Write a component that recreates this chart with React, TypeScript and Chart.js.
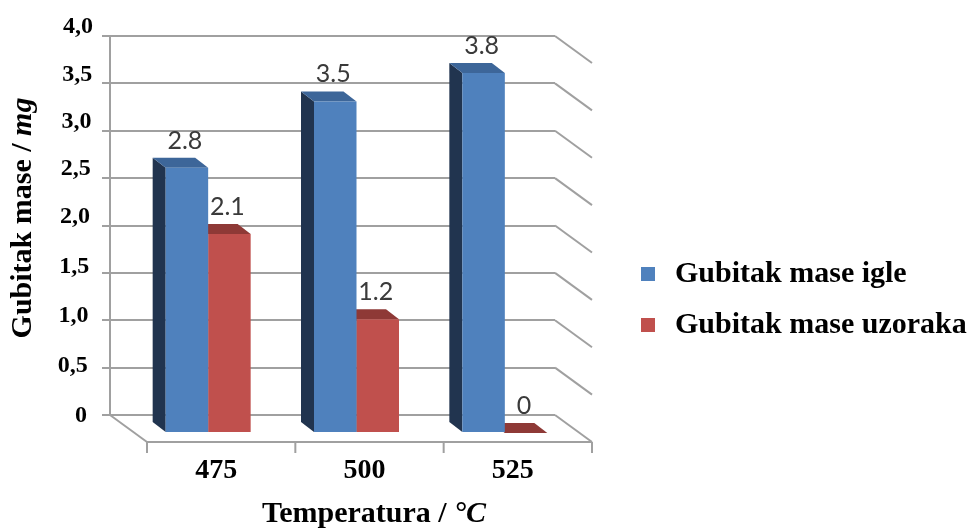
import React, { useEffect, useRef } from 'react';
import { Chart, registerables } from 'chart.js';

Chart.register(...registerables);

// ---- data ----
const categories = ['475', '500', '525'];
const seriesNames = ['Gubitak mase igle', 'Gubitak mase uzoraka'];
const lossNeedle = [2.8, 3.5, 3.8];
const lossSample = [2.1, 1.2, 0];
const yTickValues = [0, 0.5, 1, 1.5, 2, 2.5, 3, 3.5, 4];
const yTickLabels = ['0', '0,5', '1,0', '1,5', '2,0', '2,5', '3,0', '3,5', '4,0'];
const yTitleMain = 'Gubitak mase / ';
const yTitleUnit = 'mg';
const xTitleMain = 'Temperatura / ';
const xTitleUnit = '°C';

// ---- styles ----
const W = 971;
const H = 529;
const FRONT = ['#4F81BD', '#C0504D'];
const TOP = ['#3D6699', '#8E3936'];
const SIDE = ['#21344F', '#6A2725'];
const GRID = '#A0A0A0';
const SERIF = '"Liberation Serif", "Times New Roman", serif';
const FLOOR = { dx: 37, dy: 27 };
const SHIFT = { dx: 24, dy: 18 };
const BACK = { dx: -13, dy: -10 };

function poly(ctx: CanvasRenderingContext2D, pts: number[][], fill: string) {
  ctx.beginPath();
  ctx.moveTo(pts[0][0], pts[0][1]);
  for (let i = 1; i < pts.length; i++) ctx.lineTo(pts[i][0], pts[i][1]);
  ctx.closePath();
  ctx.fillStyle = fill;
  ctx.fill();
}

function line(ctx: CanvasRenderingContext2D, x1: number, y1: number, x2: number, y2: number) {
  ctx.beginPath();
  ctx.moveTo(x1, y1);
  ctx.lineTo(x2, y2);
  ctx.stroke();
}

function drawComposite(ctx: CanvasRenderingContext2D, a: string, b: string, size: number) {
  const f1 = `bold ${size}px ${SERIF}`;
  const f2 = `italic bold ${size}px ${SERIF}`;
  ctx.font = f1;
  const w1 = ctx.measureText(a).width;
  ctx.font = f2;
  const w2 = ctx.measureText(b).width;
  const start = -(w1 + w2) / 2;
  ctx.textAlign = 'left';
  ctx.textBaseline = 'middle';
  ctx.font = f1;
  ctx.fillText(a, start, 0);
  ctx.font = f2;
  ctx.fillText(b, start + w1, 0);
}

const threeD = {
  id: 'threeD',
  beforeDatasetsDraw(chart: any) {
    const { ctx, chartArea: a, scales } = chart;
    const ys = scales.y;
    const xs = scales.x;
    ctx.save();
    ctx.strokeStyle = GRID;
    ctx.lineWidth = 2;
    // right wall diagonals
    yTickValues.forEach((v) => {
      const py = ys.getPixelForValue(v);
      line(ctx, a.right, py, a.right + FLOOR.dx, py + FLOOR.dy);
    });
    // floor
    line(ctx, a.left, a.bottom, a.left + FLOOR.dx, a.bottom + FLOOR.dy);
    line(ctx, a.left + FLOOR.dx, a.bottom + FLOOR.dy, a.right + FLOOR.dx, a.bottom + FLOOR.dy);
    // category ticks on front edge
    const step = xs.getPixelForValue(1) - xs.getPixelForValue(0);
    for (let i = 0; i <= categories.length; i++) {
      const bx = xs.getPixelForValue(0) - step / 2 + i * step + FLOOR.dx;
      line(ctx, bx, a.bottom + FLOOR.dy, bx, a.bottom + FLOOR.dy + 11);
    }
    // y tick labels
    ctx.fillStyle = '#000';
    ctx.font = `bold 24px ${SERIF}`;
    ctx.textAlign = 'right';
    ctx.textBaseline = 'middle';
    yTickValues.forEach((v, i) => {
      const py = ys.getPixelForValue(v) - Math.min(10, 5 * v) + 1;
      ctx.fillText(yTickLabels[i], a.left - 23 + 1.5 * v, py);
    });
    // x tick labels
    ctx.font = `bold 28px ${SERIF}`;
    ctx.textAlign = 'center';
    categories.forEach((c, i) => {
      ctx.fillText(c, xs.getPixelForValue(i) + 32, a.bottom + 56);
    });
    ctx.restore();

    // bars: shifted into the box, side and top faces first
    ctx.save();
    ctx.translate(SHIFT.dx, SHIFT.dy);
    chart.data.datasets.forEach((_: any, di: number) => {
      const meta = chart.getDatasetMeta(di);
      meta.data.forEach((el: any) => {
        const p = el.getProps(['x', 'y', 'base', 'width'], true);
        const L = p.x - p.width / 2;
        const R = p.x + p.width / 2;
        poly(ctx, [[L, p.y], [L + BACK.dx, p.y + BACK.dy], [L + BACK.dx, p.base + BACK.dy], [L, p.base]], SIDE[di]);
        poly(ctx, [[L, p.y], [R, p.y], [R + BACK.dx, p.y + BACK.dy], [L + BACK.dx, p.y + BACK.dy]], TOP[di]);
      });
    });
  },
  afterDatasetsDraw(chart: any) {
    const { ctx } = chart;
    ctx.restore();
    ctx.save();
    ctx.fillStyle = '#3A3A3A';
    ctx.font = '25px Lato, "Open Sans", sans-serif';
    ctx.textAlign = 'center';
    ctx.textBaseline = 'middle';
    chart.data.datasets.forEach((ds: any, di: number) => {
      const meta = chart.getDatasetMeta(di);
      meta.data.forEach((el: any, i: number) => {
        const p = el.getProps(['x', 'y'], true);
        ctx.fillText(String(ds.data[i]), p.x + SHIFT.dx - 2, p.y + SHIFT.dy - 27);
      });
    });
    ctx.restore();
  },
  afterDraw(chart: any) {
    const { ctx, chartArea: a } = chart;
    ctx.save();
    ctx.fillStyle = '#000';
    // y title
    ctx.save();
    ctx.translate(23, 218);
    ctx.rotate(-Math.PI / 2);
    drawComposite(ctx, yTitleMain, yTitleUnit, 30);
    ctx.restore();
    // x title
    ctx.save();
    ctx.translate(374, a.bottom + 99);
    drawComposite(ctx, xTitleMain, xTitleUnit, 30);
    ctx.restore();
    // legend
    const rows = [274, 325];
    chart.data.datasets.forEach((ds: any, di: number) => {
      ctx.fillStyle = ds.backgroundColor;
      ctx.fillRect(641, rows[di] - 7, 14, 14);
      ctx.fillStyle = '#000';
      ctx.font = `bold 30px ${SERIF}`;
      ctx.textAlign = 'left';
      ctx.textBaseline = 'middle';
      ctx.fillText(ds.label, 675, rows[di]);
    });
    ctx.restore();
  },
};

export default function App() {
  const ref = useRef<HTMLCanvasElement | null>(null);
  useEffect(() => {
    if (!ref.current) return;
    const chart = new Chart(ref.current, {
      type: 'bar',
      data: {
        labels: categories,
        datasets: [
          { label: seriesNames[0], data: lossNeedle, backgroundColor: FRONT[0], borderWidth: 0, clip: false as any },
          { label: seriesNames[1], data: lossSample, backgroundColor: FRONT[1], borderWidth: 0, clip: false as any },
        ],
      },
      options: {
        animation: false,
        responsive: false,
        devicePixelRatio: 1,
        layout: { padding: { left: 110, top: 36, right: W - 555, bottom: H - 415 } },
        datasets: { bar: { categoryPercentage: 0.573, barPercentage: 1 } },
        plugins: { legend: { display: false }, tooltip: { enabled: false } },
        scales: {
          x: { display: false, offset: true },
          y: {
            min: 0,
            max: 4,
            ticks: { display: false, stepSize: 0.5 },
            grid: { color: GRID, lineWidth: 2, tickLength: 8, drawTicks: true },
            border: { display: true, color: GRID, width: 2 },
            afterFit: (s: any) => { s.width = 0; },
          },
        },
      } as any,
      plugins: [threeD],
    });
    return () => chart.destroy();
  }, []);
  return (
    <div style={{ position: 'absolute', left: 0, top: 0, width: W, height: H, background: '#fff' }}>
      <canvas ref={ref} width={W} height={H} />
    </div>
  );
}
